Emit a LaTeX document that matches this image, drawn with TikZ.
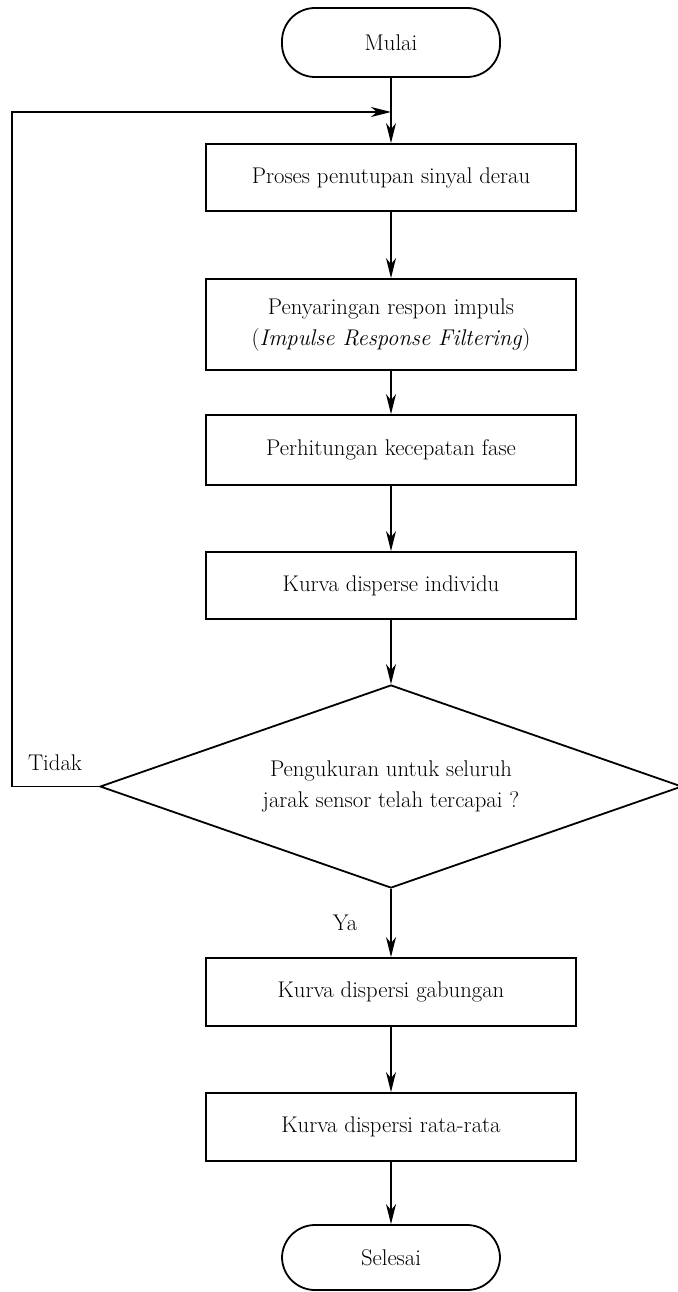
\documentclass[tikz,border=0pt]{standalone}
\usetikzlibrary{shapes.geometric,arrows.meta}
\begin{document}
\begin{tikzpicture}[x=1pt,y=-1pt,
  every node/.style={font=\fontsize{22.7}{31}\selectfont},
  line/.style={line width=1.8pt},
  arr/.style={line width=1.8pt,-{Stealth[length=20pt,width=10pt,inset=6pt]}},
  procbox/.style={draw,line width=1.8pt,rectangle,minimum width=370pt,inner sep=0pt,align=center},
  term/.style={draw,line width=1.8pt,rectangle,rounded corners=33pt,minimum width=218pt,inner sep=0pt},
  decide/.style={draw,line width=1.8pt,diamond,aspect=2.86,minimum width=582pt,minimum height=203pt,inner sep=0pt,align=center}]
\useasboundingbox (0,0) rectangle (677,1292);
\node[term,minimum height=69pt] (mulai) at (391,42.5) {Mulai};
\node[procbox,minimum height=67pt] (b1) at (391,177.5) {Proses penutupan sinyal derau};
\node[procbox,minimum height=91pt] (b2) at (391,324.5) {Penyaringan respon impuls\\(\textit{Impulse Response Filtering})};
\node[procbox,minimum height=70pt] (b3) at (391,450) {Perhitungan kecepatan fase};
\node[procbox,minimum height=67pt] (b4) at (391,585.5) {Kurva disperse individu};
\node[decide] (d) at (391,786.5) {Pengukuran untuk seluruh\\jarak sensor telah tercapai ?};
\node[procbox,minimum height=68pt] (b5) at (391,992) {Kurva dispersi gabungan};
\node[procbox,minimum height=68pt] (b6) at (391,1127) {Kurva dispersi rata-rata};
\node[term,minimum height=65pt] (selesai) at (391,1257.5) {Selesai};
\node (tidak) at (55,763) {Tidak};
\node (ya) at (345,923) {Ya};
\coordinate (join) at (391,112);
\coordinate (lbot) at (12,786.5);
\coordinate (ltop) at (12,112);
\draw[arr] (mulai) -- (b1);
\draw[arr] (b1) -- (b2);
\draw[arr] (b2) -- (b3);
\draw[arr] (b3) -- (b4);
\draw[arr] (b4) -- (d);
\draw[arr] (d) -- (b5);
\draw[arr] (b5) -- (b6);
\draw[arr] (b6) -- (selesai);
\draw[arr] (d.west) -- (lbot) -- (ltop) -- (join);
\end{tikzpicture}
\end{document}
